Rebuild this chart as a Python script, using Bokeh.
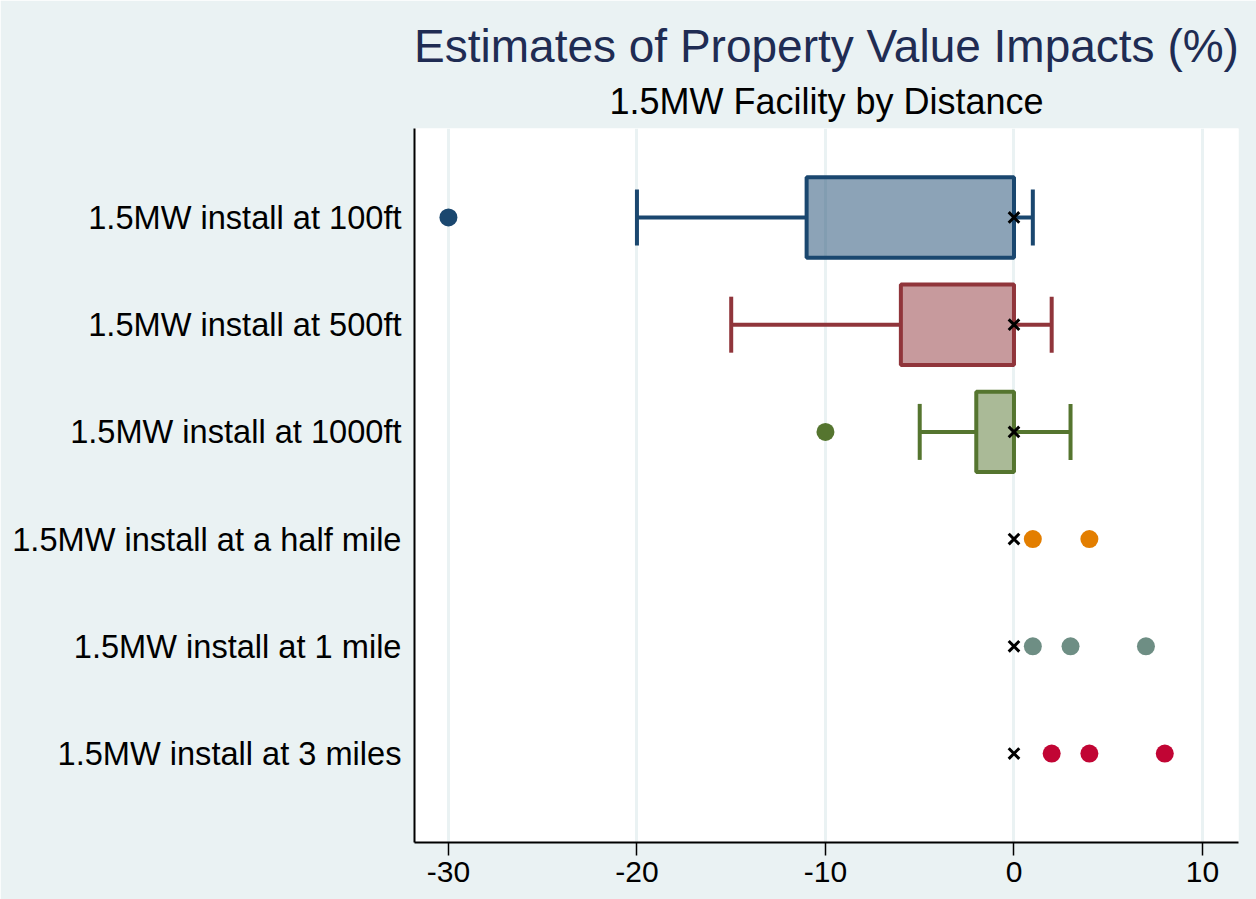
import math
from bokeh.plotting import figure
from bokeh.models import Range1d, FactorRange, Title, FixedTicker
from bokeh.embed import file_html
from bokeh.resources import INLINE

# ---------------- data ----------------
categories = [
    "1.5MW install at 100ft",
    "1.5MW install at 500ft",
    "1.5MW install at 1000ft",
    "1.5MW install at a half mile",
    "1.5MW install at 1 mile",
    "1.5MW install at 3 miles",
]
series_colors = ["#1A476F", "#90353B", "#55752F", "#E37E00", "#6E8E84", "#C10534"]

box_cats = categories[:3]
box_colors = series_colors[:3]
lower_whisker = [-20, -15, -5]
q1 = [-11, -6, -2]
q3 = [0, 0, 0]
upper_whisker = [1, 2, 3]

mean_vals = [0, 0, 0, 0, 0, 0]

outlier_cats = [
    categories[0],
    categories[2],
    categories[3], categories[3],
    categories[4], categories[4], categories[4],
    categories[5], categories[5], categories[5],
]
outlier_vals = [-30, -10, 1, 4, 1, 3, 7, 2, 4, 8]
outlier_colors = [
    series_colors[0],
    series_colors[2],
    series_colors[3], series_colors[3],
    series_colors[4], series_colors[4], series_colors[4],
    series_colors[5], series_colors[5], series_colors[5],
]

x_ticks = [-30, -20, -10, 0, 10]
x_tick_labels = ["-30", "-20", "-10", "0", "10"]

title_text = "Estimates of Property Value Impacts (%)"
subtitle_text = "1.5MW Facility by Distance"

# ---------------- style ----------------
BG = "#EAF2F3"
FONT = "Liberation Sans"

p = figure(
    width=1256, height=899,
    y_range=FactorRange(factors=list(reversed(categories)), range_padding=0.11),
    x_range=Range1d(-31.80, 11.91),
    output_backend="svg", toolbar_location=None, title=None,
    min_border_left=414, min_border_right=18, min_border_bottom=57, min_border_top=128,
)
p.border_fill_color = BG
p.background_fill_color = "white"
p.outline_line_color = None

sub = Title(text=subtitle_text, align="center", text_font=FONT, text_font_size="36px",
            text_color="black", text_font_style="normal", standoff=14)
p.add_layout(sub, "above")
main = Title(text=title_text, align="center", text_font=FONT, text_font_size="46px",
             text_color="#1F2C53", text_font_style="normal", standoff=0)
p.add_layout(main, "above")

LW = 4
# whiskers
p.segment(x0=lower_whisker, y0=box_cats, x1=q1, y1=box_cats, line_color=box_colors, line_width=LW)
p.segment(x0=q3, y0=box_cats, x1=upper_whisker, y1=box_cats, line_color=box_colors, line_width=LW)
# caps
p.scatter(x=lower_whisker, y=box_cats, marker="dash", size=56, angle=math.pi / 2,
          line_color=box_colors, line_width=LW)
p.scatter(x=upper_whisker, y=box_cats, marker="dash", size=56, angle=math.pi / 2,
          line_color=box_colors, line_width=LW)
# boxes
p.hbar(y=box_cats, left=q1, right=q3, height=0.75, fill_color=box_colors, fill_alpha=0.5,
       line_color=box_colors, line_width=LW)

# outliers / points
p.scatter(x=outlier_vals, y=outlier_cats, size=18, fill_color=outlier_colors,
          line_color=outlier_colors, line_width=0)

# means
p.scatter(x=mean_vals, y=categories, marker="x", size=15, line_color="black", line_width=3)

# axes
p.xaxis.ticker = FixedTicker(ticks=x_ticks)
p.xaxis.major_label_overrides = {t: lab for t, lab in zip(x_ticks, x_tick_labels)}
p.xaxis.axis_line_color = "black"
p.xaxis.axis_line_width = 2
p.xaxis.major_tick_line_color = "black"
p.xaxis.major_tick_line_width = 1.5
p.xaxis.major_tick_out = 13
p.xaxis.major_tick_in = 0
p.xaxis.minor_tick_line_color = None
p.xaxis.major_label_text_font = FONT
p.xaxis.major_label_text_font_size = "30px"
p.xaxis.major_label_text_color = "black"
p.xaxis.major_label_standoff = 6

p.yaxis.axis_line_color = "black"
p.yaxis.axis_line_width = 2
p.yaxis.major_tick_line_color = None
p.yaxis.major_tick_out = 0
p.yaxis.major_tick_in = 0
p.yaxis.minor_tick_line_color = None
p.yaxis.major_label_text_font = FONT
p.yaxis.major_label_text_font_size = "32.6px"
p.yaxis.major_label_text_color = "black"
p.yaxis.major_label_standoff = 13

p.xgrid.grid_line_color = BG
p.xgrid.grid_line_width = 3
p.ygrid.grid_line_color = None

open("out.html", "w").write(file_html(p, INLINE))
